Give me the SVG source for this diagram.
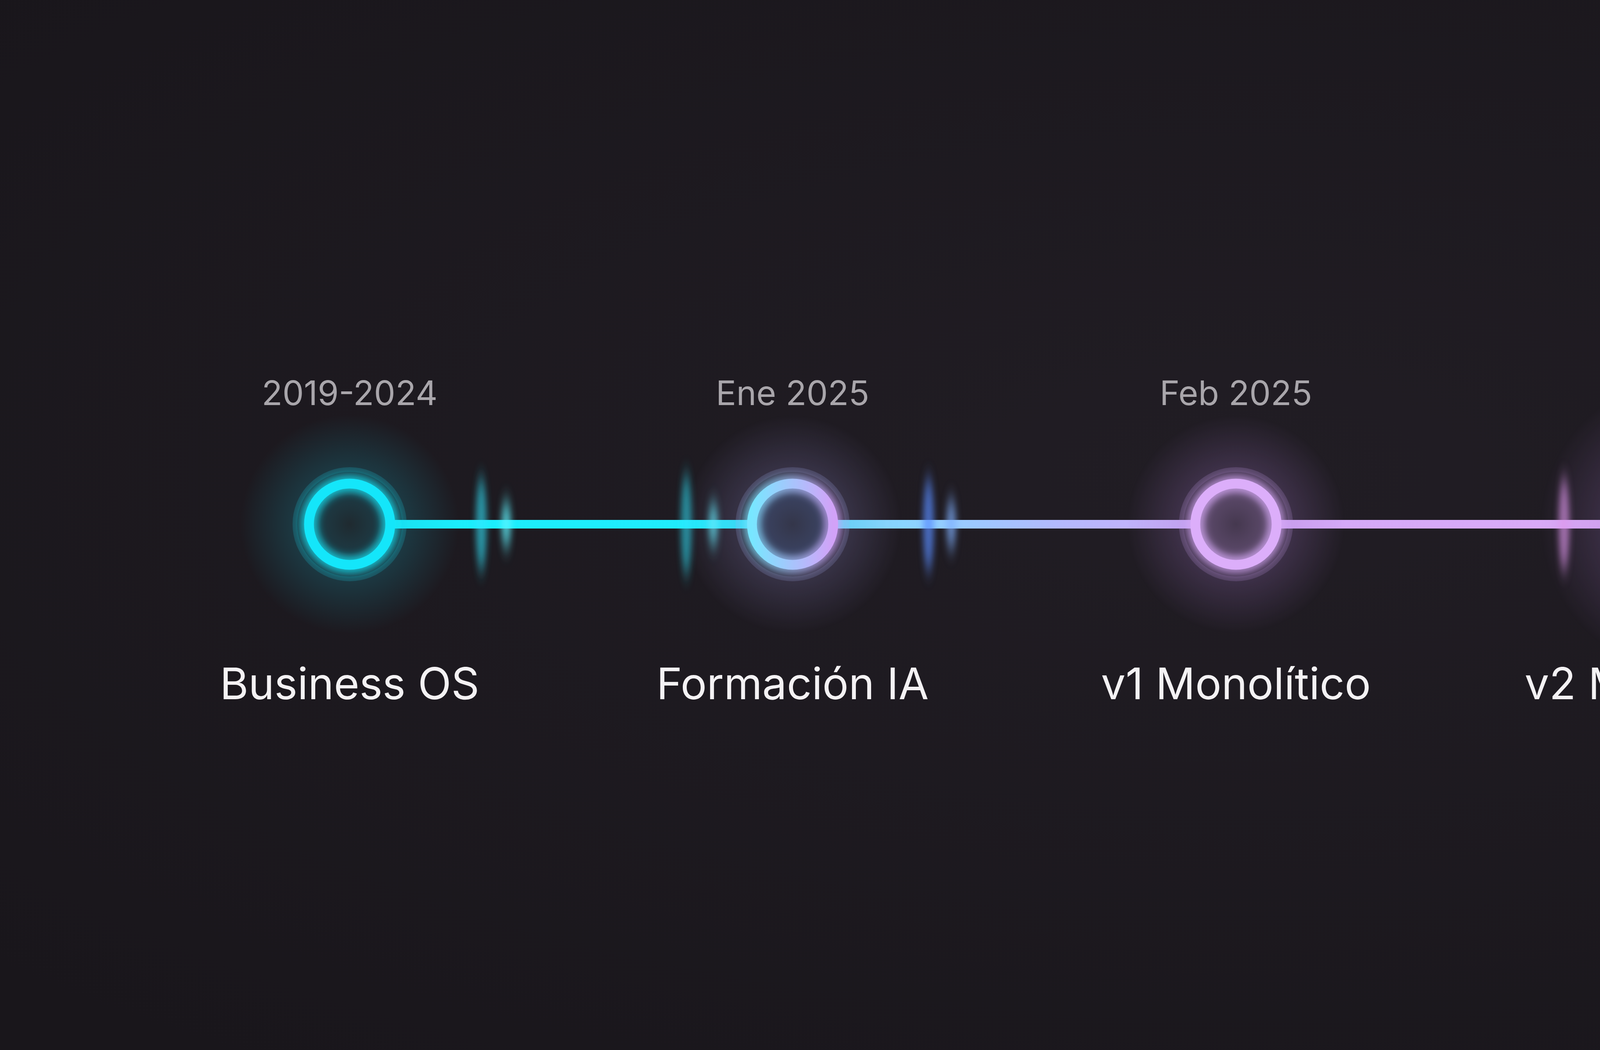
<svg xmlns="http://www.w3.org/2000/svg" width="6336" height="2688" viewBox="0 0 6336 2688">
<style>
.date{font-family:Inter,"Liberation Sans",sans-serif;font-size:87px;fill:#a9a6ab;text-anchor:middle}
.label{font-family:Inter,"Liberation Sans",sans-serif;font-size:112px;fill:#f4f2f4;text-anchor:middle}
.ring{fill:none}
</style>
<defs>
<radialGradient id="bg" cx="0.5" cy="0.45" r="0.7">
<stop offset="0" stop-color="#211d24"/>
<stop offset="1" stop-color="#19161b"/>
</radialGradient>
<linearGradient id="lineGrad" gradientUnits="userSpaceOnUse" x1="895" y1="0" x2="5479" y2="0">
<stop offset="0" stop-color="#19eefc"/>
<stop offset="0.24" stop-color="#22ecfd"/>
<stop offset="0.30" stop-color="#86d8ff"/>
<stop offset="0.40" stop-color="#b5b8fd"/>
<stop offset="0.50" stop-color="#d3a9f8"/>
<stop offset="0.74" stop-color="#dcaaf6"/>
<stop offset="0.80" stop-color="#f4a6bf"/>
<stop offset="0.95" stop-color="#ff9848"/>
<stop offset="1" stop-color="#ff9640"/>
</linearGradient>
<linearGradient id="ring2" x1="0" y1="0" x2="1" y2="0">
<stop offset="0" stop-color="#78e6ff"/>
<stop offset="0.5" stop-color="#a8c4fc"/>
<stop offset="1" stop-color="#d2a2f8"/>
</linearGradient>
<radialGradient id="haloCyan"><stop offset="0" stop-color="#19d8ee" stop-opacity="0.45"/><stop offset="0.5" stop-color="#19b8d0" stop-opacity="0.2"/><stop offset="1" stop-color="#19b8d0" stop-opacity="0"/></radialGradient>
<radialGradient id="haloBlue"><stop offset="0" stop-color="#8fb8f0" stop-opacity="0.45"/><stop offset="0.5" stop-color="#9a90d8" stop-opacity="0.2"/><stop offset="1" stop-color="#9a90d8" stop-opacity="0"/></radialGradient>
<radialGradient id="haloPurple"><stop offset="0" stop-color="#c490e8" stop-opacity="0.5"/><stop offset="0.5" stop-color="#a87ad0" stop-opacity="0.22"/><stop offset="1" stop-color="#a87ad0" stop-opacity="0"/></radialGradient>
<radialGradient id="haloOrange"><stop offset="0" stop-color="#ff8a30" stop-opacity="0.5"/><stop offset="0.45" stop-color="#e0701e" stop-opacity="0.3"/><stop offset="0.75" stop-color="#a04e18" stop-opacity="0.1"/><stop offset="1" stop-color="#a04e18" stop-opacity="0"/></radialGradient>
<radialGradient id="inCyan"><stop offset="0" stop-color="#1f2a30"/><stop offset="0.7" stop-color="#1d3a44"/><stop offset="1" stop-color="#1c5a66"/></radialGradient>
<radialGradient id="inBlue"><stop offset="0" stop-color="#34364a"/><stop offset="0.7" stop-color="#3a4260"/><stop offset="1" stop-color="#5a6290"/></radialGradient>
<radialGradient id="inPurple"><stop offset="0" stop-color="#45384f"/><stop offset="0.7" stop-color="#5a4868"/><stop offset="1" stop-color="#866a9c"/></radialGradient>
<radialGradient id="inOrange"><stop offset="0" stop-color="#3a261c"/><stop offset="0.6" stop-color="#5a341e"/><stop offset="1" stop-color="#905020"/></radialGradient>
<filter id="glowS" x="-50%" y="-50%" width="200%" height="200%"><feGaussianBlur stdDeviation="10"/></filter>
<filter id="glowM" x="-50%" y="-50%" width="200%" height="200%"><feGaussianBlur stdDeviation="24"/></filter>
<filter id="flareBlur" x="-200%" y="-50%" width="500%" height="200%"><feGaussianBlur stdDeviation="8 24"/></filter>
<filter id="streakBlur" x="-50%" y="-50%" width="200%" height="200%"><feGaussianBlur stdDeviation="12"/></filter>
</defs>

<rect width="6336" height="2688" fill="url(#bg)"/>

<g id="connectors">
<line x1="1000" y1="1342" x2="5260" y2="1342" stroke="url(#lineGrad)" stroke-width="60" opacity="0.4" filter="url(#glowM)"/>
<line x1="1000" y1="1342" x2="5260" y2="1342" stroke="url(#lineGrad)" stroke-width="22"/>
<g id="flares" filter="url(#flareBlur)">
<ellipse cx="1232" cy="1342" rx="14" ry="120" fill="#30e8ff" opacity="0.6"/>
<ellipse cx="1296" cy="1342" rx="13" ry="60" fill="#60f4ff" opacity="0.75"/>
<ellipse cx="1757" cy="1342" rx="14" ry="130" fill="#30e8ff" opacity="0.55"/>
<ellipse cx="1826" cy="1342" rx="13" ry="55" fill="#60f4ff" opacity="0.7"/>
<ellipse cx="2377" cy="1342" rx="14" ry="120" fill="#5a8cff" opacity="0.7"/>
<ellipse cx="2435" cy="1342" rx="13" ry="65" fill="#80b0ff" opacity="0.7"/>
<ellipse cx="4004" cy="1342" rx="14" ry="120" fill="#e49af0" opacity="0.65"/>
</g>
</g>

<g id="node-business-os">
<circle cx="895" cy="1342" r="280" fill="url(#haloCyan)"/>
<circle cx="895" cy="1342" r="104" fill="url(#inCyan)"/>
<circle cx="895" cy="1342" r="140" class="ring" stroke="#22d8ee" stroke-width="12" opacity="0.18"/>
<circle cx="895" cy="1342" r="104" class="ring" stroke="#18e8fa" stroke-width="44" opacity="0.7" filter="url(#glowS)"/>
<circle cx="895" cy="1342" r="104" class="ring" stroke="#14e6fa" stroke-width="25"/>
<text class="date" x="895" y="1037">2019-2024</text>
<text class="label" x="895" y="1790">Business OS</text>
</g>

<g id="node-formacion-ia">
<circle cx="2029" cy="1342" r="280" fill="url(#haloBlue)"/>
<circle cx="2029" cy="1342" r="104" fill="url(#inBlue)"/>
<circle cx="2029" cy="1342" r="140" class="ring" stroke="#a8b0f0" stroke-width="12" opacity="0.18"/>
<circle cx="2029" cy="1342" r="104" class="ring" stroke="url(#ring2)" stroke-width="44" opacity="0.7" filter="url(#glowS)"/>
<circle cx="2029" cy="1342" r="104" class="ring" stroke="url(#ring2)" stroke-width="25"/>
<text class="date" x="2029" y="1037">Ene 2025</text>
<text class="label" x="2029" y="1790">Formación IA</text>
</g>

<g id="node-v1-monolitico">
<circle cx="3164" cy="1342" r="280" fill="url(#haloPurple)"/>
<circle cx="3164" cy="1342" r="104" fill="url(#inPurple)"/>
<circle cx="3164" cy="1342" r="140" class="ring" stroke="#c8a0f0" stroke-width="12" opacity="0.18"/>
<circle cx="3164" cy="1342" r="104" class="ring" stroke="#d8aaf8" stroke-width="44" opacity="0.7" filter="url(#glowS)"/>
<circle cx="3164" cy="1342" r="104" class="ring" stroke="#dcaefa" stroke-width="25"/>
<text class="date" x="3164" y="1037">Feb 2025</text>
<text class="label" x="3164" y="1790">v1 Monolítico</text>
</g>

<g id="node-v2-multiagente">
<circle cx="4322" cy="1343" r="380" fill="url(#haloPurple)"/>
<circle cx="4322" cy="1343" r="151" fill="url(#inPurple)"/>
<circle cx="4322" cy="1343" r="192" class="ring" stroke="#c8a0f0" stroke-width="16" opacity="0.2"/>
<circle cx="4322" cy="1343" r="151" class="ring" stroke="#d8aaf8" stroke-width="48" opacity="0.7" filter="url(#glowS)"/>
<circle cx="4322" cy="1343" r="151" class="ring" stroke="#ddb0fb" stroke-width="26"/>
<text class="date" x="4322" y="1037">Mar 2025</text>
<text class="label" x="4322" y="1790">v2 Multi-agente</text>
</g>

<g id="node-venta">
<circle cx="5479" cy="1344" r="640" fill="url(#haloOrange)"/>
<circle cx="5479" cy="1344" r="228" fill="url(#inOrange)"/>
<circle cx="5479" cy="1344" r="352" class="ring" stroke="#ff8a30" stroke-width="14" opacity="0.14"/>
<circle cx="5479" cy="1344" r="290" class="ring" stroke="#ff8a30" stroke-width="40" opacity="0.22"/>
<circle cx="5479" cy="1344" r="228" class="ring" stroke="#ff9a40" stroke-width="70" opacity="0.6" filter="url(#glowM)"/>
<circle cx="5479" cy="1344" r="228" class="ring" stroke="#ff9845" stroke-width="34"/>
<g filter="url(#streakBlur)">
<polygon points="5590,1235 5650,1120 5830,985 5720,1170" fill="#ffa850" opacity="0.5"/>
<polygon points="5368,1455 5300,1570 5160,1660 5250,1530" fill="#ffa850" opacity="0.45"/>
</g>
<circle cx="5637" cy="1168" r="42" fill="#ffe07a" opacity="0.7" filter="url(#glowS)"/>
<circle cx="5318" cy="1505" r="36" fill="#ffe07a" opacity="0.7" filter="url(#glowS)"/>
<text class="date" x="5479" y="947">Sep 2025</text>
<text class="label" x="5479" y="1790">Venta</text>
</g>
</svg>
